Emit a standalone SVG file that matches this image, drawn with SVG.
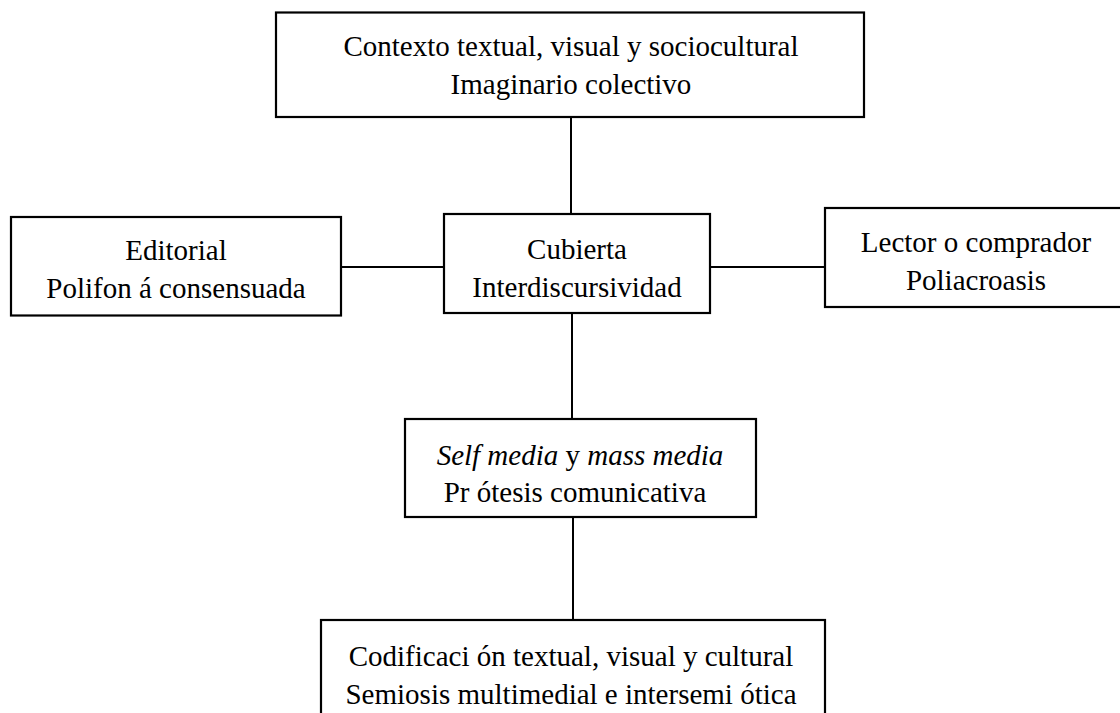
<svg xmlns="http://www.w3.org/2000/svg" width="1120" height="713" viewBox="0 0 1120 713">
  <style>
    .box { fill: #ffffff; stroke: #000000; stroke-width: 2.2; }
    .link { stroke: #000000; stroke-width: 2; fill: none; }
    .lbl { font-family: "Liberation Serif", "Times New Roman", serif; font-size: 29px; fill: #000000; text-anchor: middle; }
    .it { font-style: italic; }
  </style>
  <rect x="0" y="0" width="1120" height="713" fill="#ffffff"/>

  <!-- connectors -->
  <g id="connectors">
    <line class="link" x1="571" y1="117" x2="571" y2="214"/>
    <line class="link" x1="341" y1="267" x2="444" y2="267"/>
    <line class="link" x1="710" y1="267" x2="825" y2="267"/>
    <line class="link" x1="572" y1="313" x2="572" y2="419"/>
    <line class="link" x1="573" y1="517" x2="573" y2="620"/>
  </g>

  <g id="contexto">
    <rect class="box" x="276" y="12.5" width="588" height="104.5"/>
    <text class="lbl" x="571" y="56">Contexto textual, visual y sociocultural</text>
    <text class="lbl" x="571" y="94">Imaginario colectivo</text>
  </g>

  <g id="editorial">
    <rect class="box" x="11" y="217" width="330" height="98.5"/>
    <text class="lbl" x="176" y="260">Editorial</text>
    <text class="lbl" x="176" y="298">Polifon á consensuada</text>
  </g>

  <g id="cubierta">
    <rect class="box" x="444" y="214" width="266" height="99"/>
    <text class="lbl" x="577" y="259">Cubierta</text>
    <text class="lbl" x="577" y="297">Interdiscursividad</text>
  </g>

  <g id="lector">
    <rect class="box" x="825" y="208" width="303" height="99"/>
    <text class="lbl" x="976" y="252">Lector o comprador</text>
    <text class="lbl" x="976" y="290">Poliacroasis</text>
  </g>

  <g id="media">
    <rect class="box" x="405" y="419" width="351" height="98"/>
    <text class="lbl" x="580" y="465"><tspan class="it">Self media</tspan> y <tspan class="it">mass media</tspan></text>
    <text class="lbl" x="575" y="502">Pr ótesis comunicativa</text>
  </g>

  <g id="codificacion">
    <rect class="box" x="321" y="620" width="504" height="110"/>
    <text class="lbl" x="571" y="666">Codificaci ón textual, visual y cultural</text>
    <text class="lbl" x="571" y="704">Semiosis multimedial e intersemi ótica</text>
  </g>
</svg>
